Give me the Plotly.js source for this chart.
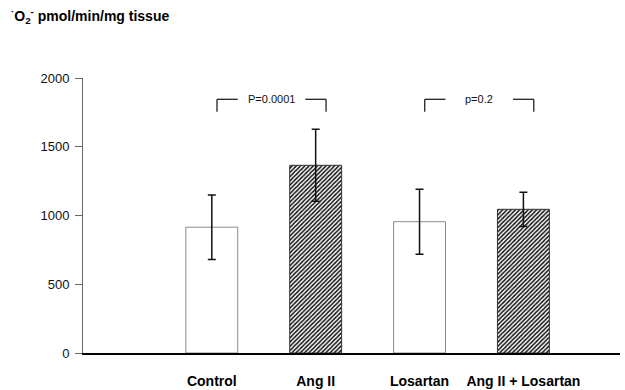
<!DOCTYPE html>
<html>
<head>
<meta charset="utf-8">
<script src="https://cdn.plot.ly/plotly-3.0.1.min.js"></script>
<style>html,body{margin:0;padding:0;background:#fff;}#chart{width:625px;height:390px;}</style>
</head>
<body>
<div id="chart"></div>
<script>
var categories = ["Control", "Ang II", "Losartan", "Ang II + Losartan"];
var means = [915, 1365, 955, 1045];
var errors = [235, 262, 236, 125];
var hatched = [false, true, false, true];
var yTicks = [0, 500, 1000, 1500, 2000];
var comparisons = [
  {from: 0, to: 1, label: "P=0.0001"},
  {from: 2, to: 3, label: "p=0.2"}
];
var yTitle = "<sup>·</sup>O<sub>2</sub><sup>-</sup> pmol/min/mg tissue";

var trace = {
  type: "bar",
  x: categories,
  y: means,
  width: 0.5,
  marker: {
    color: "#ffffff",
    line: {color: hatched.map(function(h){return h ? "#333333" : "#8a8a8a";}), width: 1},
    pattern: {
      shape: hatched.map(function(h){return h ? "/" : "";}),
      fgcolor: "#111111",
      bgcolor: "#ffffff",
      size: 3,
      solidity: 0.5
    }
  },
  error_y: {type: "data", array: errors, visible: true, color: "#111111", thickness: 1.5, width: 4},
  hoverinfo: "none"
};

var shapes = [];
var annotations = [];
var brTop = 1845, brBot = 1755;
comparisons.forEach(function(c){
  var a = c.from + 0.05, b = c.to + 0.1;
  var mid = (a + b) / 2;
  shapes.push({type:"line", xref:"x", yref:"y", x0:a, x1:a, y0:brBot, y1:brTop, line:{color:"#222", width:1.3}});
  shapes.push({type:"line", xref:"x", yref:"y", x0:a, x1:a + 0.2, y0:brTop, y1:brTop, line:{color:"#222", width:1.3}});
  shapes.push({type:"line", xref:"x", yref:"y", x0:b - 0.2, x1:b, y0:brTop, y1:brTop, line:{color:"#222", width:1.3}});
  shapes.push({type:"line", xref:"x", yref:"y", x0:b, x1:b, y0:brBot, y1:brTop, line:{color:"#222", width:1.3}});
  annotations.push({xref:"x", yref:"y", x:mid, y:brTop, text:c.label, showarrow:false,
    font:{family:"Liberation Sans, Arial", size:11, color:"#111"}, xanchor:"center", yanchor:"middle"});
});
annotations.push({xref:"paper", yref:"paper", x:-0.137, y:1.225, xanchor:"left", yanchor:"middle",
  text:"<b>" + yTitle + "</b>", showarrow:false,
  font:{family:"Liberation Sans, Arial", size:14, color:"#000"}});

var layout = {
  width: 625, height: 390,
  margin: {l: 83, r: 5, t: 78, b: 37},
  paper_bgcolor: "#fff", plot_bgcolor: "#fff",
  showlegend: false,
  bargap: 0.5,
  xaxis: {
    type: "category",
    range: [-1.24, 3.93],
    showline: true, linecolor: "#000", linewidth: 1.5,
    ticks: "", showgrid: false, zeroline: false,
    ticklabelstandoff: 15,
    tickfont: {family: "Liberation Sans, Arial", size: 14, color: "#000", weight: "bold"}
  },
  yaxis: {
    range: [0, 2000],
    tickvals: yTicks,
    ticktext: yTicks.map(String),
    showline: true, linecolor: "#666", linewidth: 1,
    ticks: "outside", ticklen: 7, tickcolor: "#666", tickwidth: 1,
    ticklabelstandoff: 3,
    showgrid: false, zeroline: false,
    tickfont: {family: "Liberation Sans, Arial", size: 13, color: "#111"}
  },
  shapes: shapes,
  annotations: annotations
};

Plotly.newPlot("chart", [trace], layout, {displayModeBar: false, staticPlot: true});
</script>
</body>
</html>
